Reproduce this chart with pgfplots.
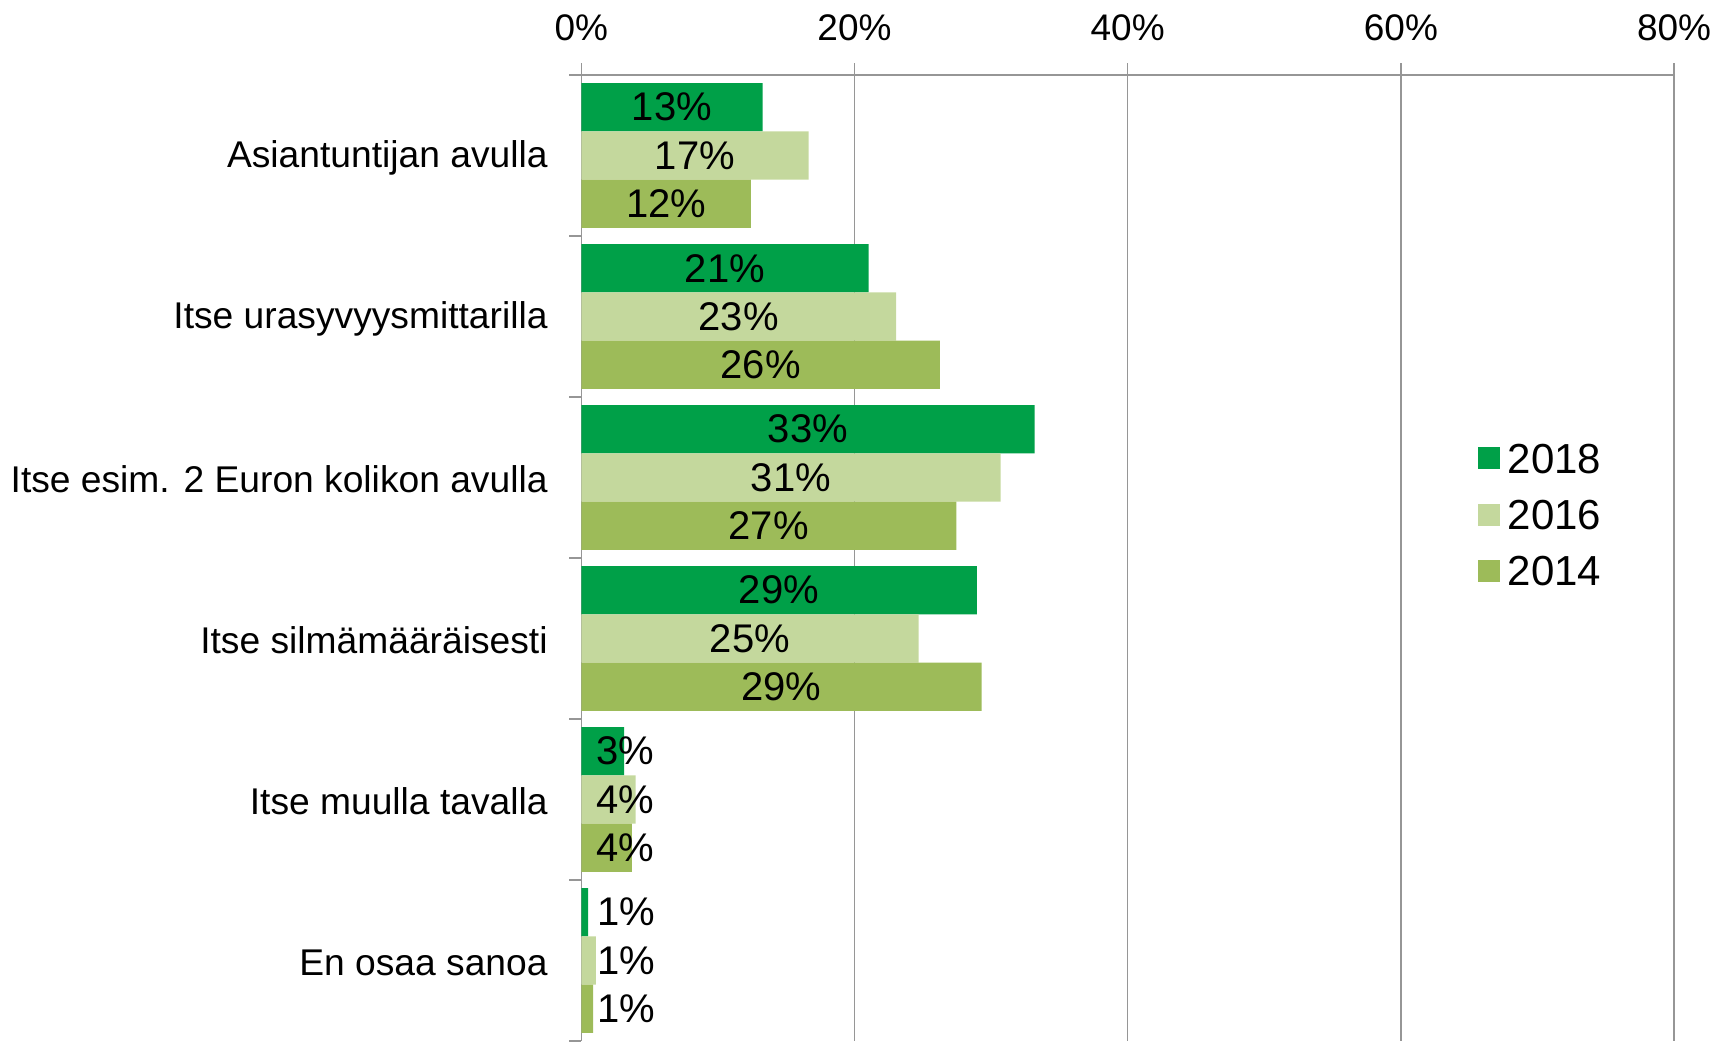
\documentclass[border=0pt]{standalone}
\usepackage{fontspec}
\setmainfont{Liberation Sans}
\usepackage{pgfplots}
\pgfplotsset{compat=1.18}
\definecolor{c18}{RGB}{0,160,72}
\definecolor{c16}{RGB}{196,216,157}
\definecolor{c14}{RGB}{157,187,89}
\definecolor{gridc}{RGB}{150,150,150}
\begin{document}
\begin{tikzpicture}
\begin{axis}[
  scale only axis,
  width=546.4pt, height=483pt,
  xmin=0, xmax=80, ymin=-0.5, ymax=5.5,
  y dir=reverse,
  axis x line*=top, axis y line*=left,
  axis line style={gridc, line width=0.75pt},
  tick align=outside,
  major tick length=6pt,
  tick style={gridc, line width=0.75pt},
  xtick={0,20,40,60,80},
  xticklabels={0\%,20\%,40\%,60\%,80\%},
  xticklabel style={font=\fontsize{18.5}{20}\selectfont, inner sep=0pt, anchor=base, yshift=11.5pt},
  xmajorgrids,
  grid style={gridc, line width=0.75pt},
  ytick={-0.5,0.5,1.5,2.5,3.5,4.5,5.5},
  yticklabels={},
  extra y ticks={0,1,2,3,4,5},
  extra y tick labels={Asiantuntijan avulla,Itse urasyvyysmittarilla,Itse esim. 2 Euron kolikon avulla,Itse silmämääräisesti,Itse muulla tavalla,En osaa sanoa},
  extra y tick style={major tick length=0pt, yticklabel style={font=\fontsize{18.6}{22}\selectfont, anchor=east, inner sep=0pt, xshift=-16.65pt, yshift=-1pt}},
  legend style={at={(axis cs:65.6,2.23)}, anchor=west, draw=none, fill=none, inner sep=0pt,
    nodes={inner sep=0pt, text height=15pt, text depth=0pt, font=\fontsize{21}{22}\selectfont},
    row sep=13.2pt, column sep=0pt},
  legend cell align=left,
  /tikz/every odd column/.style={column sep=4pt},
  legend image code/.code={\fill[#1,draw=none] (0pt,-5.67pt) rectangle (11pt,5.33pt);},
  clip=false,
]
\addplot[xbar, bar width=0.3, bar shift=0pt, fill=c18, draw=none] coordinates {
 (13.27,-0.3) (21.04,0.7) (33.18,1.7) (28.95,2.7) (3.14,3.7) (0.5,4.7)};
\addlegendentry{2018}
\addplot[xbar, bar width=0.3, bar shift=0pt, fill=c16, draw=none] coordinates {
 (16.64,0) (23.05,1) (30.7,2) (24.7,3) (3.97,4) (1.06,5)};
\addlegendentry{2016}
\addplot[xbar, bar width=0.3, bar shift=0pt, fill=c14, draw=none] coordinates {
 (12.41,0.3) (26.25,1.3) (27.45,2.3) (29.3,3.3) (3.7,4.3) (0.87,5.3)};
\addlegendentry{2014}
\addplot[forget plot, only marks, mark=o, mark size=0pt, mark options={draw=none},
  nodes near coords={\pgfplotspointmeta\%}, point meta=explicit symbolic,
  every node near coord/.style={anchor=center, inner sep=0pt, text=black, font=\fontsize{20}{20}\selectfont}]
 table[meta=l] {
x y l
6.635 -0.3 13
8.32 0 17
6.205 0.3 12
10.52 0.7 21
11.525 1 23
13.125 1.3 26
16.59 1.7 33
15.35 2 31
13.725 2.3 27
14.475 2.7 29
12.35 3 25
14.65 3.3 29
3.2 3.7 3
3.2 4 4
3.2 4.3 4
3.27 4.7 1
3.27 5 1
3.27 5.3 1
};
\end{axis}
\pgfresetboundingbox
\path[use as bounding box] (-290.65pt,0pt) rectangle (567.85pt,520.5pt);
\end{tikzpicture}
\end{document}
